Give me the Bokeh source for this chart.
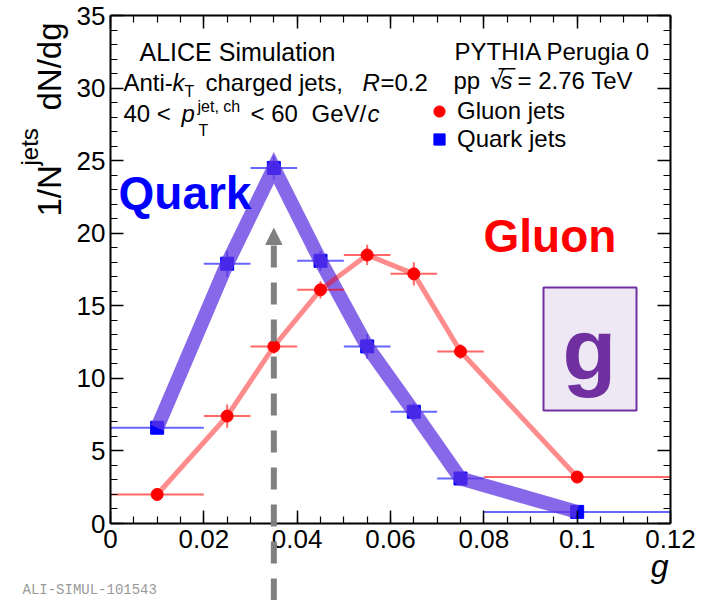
import numpy as np
from bokeh.plotting import figure
from bokeh.models import (Range1d, LinearAxis, FixedTicker, Label, Arrow, NormalHead,
                          BoxAnnotation, Legend, LegendItem)
from bokeh.embed import file_html
from bokeh.resources import INLINE

# ---- data: groomed-jet g distributions, 40 < pT < 60 GeV/c, R = 0.2 ----
g_center = [0.010, 0.025, 0.035, 0.045, 0.055, 0.065, 0.075, 0.100]
g_low = [0.00, 0.02, 0.03, 0.04, 0.05, 0.06, 0.07, 0.08]
g_high = [0.02, 0.03, 0.04, 0.05, 0.06, 0.07, 0.08, 0.12]
quark = [6.6, 17.9, 24.5, 18.1, 12.2, 7.7, 3.1, 0.8]
quark_err = [0.3, 0.9, 0.8, 0.7, 0.85, 0.6, 0.4, 0.2]
gluon = [2.0, 7.4, 12.2, 16.1, 18.5, 17.2, 11.85, 3.2]
gluon_err = [0.3, 0.8, 0.5, 0.6, 0.7, 0.8, 0.5, 0.3]
quark_peak_g = 0.035  # position marked by the dashed arrow

x_ticks = [0.0, 0.02, 0.04, 0.06, 0.08, 0.10, 0.12]
x_tick_labels = ["0", "0.02", "0.04", "0.06", "0.08", "0.1", "0.12"]
y_ticks = [0, 5, 10, 15, 20, 25, 30, 35]
y_tick_labels = ["0", "5", "10", "15", "20", "25", "30", "35"]

X_MIN, X_MAX = 0.0, 0.12
Y_MIN, Y_MAX = 0.0, 35.0

# ---- canvas geometry: the axes box sits inside a full-canvas frame ----
W, H = 713, 600
LEFT, RIGHT, TOP, BOTTOM = 110, 43, 15, 77
BOX_W = W - LEFT - RIGHT
BOX_H = H - TOP - BOTTOM


def dx(px):
    """canvas pixel column -> data x"""
    return X_MIN + (px - LEFT) / BOX_W * (X_MAX - X_MIN)


def dy(py):
    """canvas pixel row (from top) -> data y"""
    return Y_MIN + (H - BOTTOM - py) / BOX_H * (Y_MAX - Y_MIN)


FONT = "Liberation Sans"

p = figure(width=W, height=H, x_range=Range1d(dx(0), dx(W)), y_range=Range1d(dy(H), dy(0)),
           output_backend="svg", toolbar_location=None,
           x_axis_location=None, y_axis_location=None, min_border=0)
p.grid.visible = False
p.outline_line_color = None
p.background_fill_color = "white"
p.border_fill_color = "white"

x_minor = list(np.round(np.arange(0, 0.1201, 0.005), 4))
y_minor = list(range(0, 36))


def make_axis(ticks, minor, labels, bounds, loc, show_labels):
    ax = LinearAxis(fixed_location=loc, bounds=bounds)
    ax.ticker = FixedTicker(ticks=ticks, minor_ticks=minor)
    ax.axis_line_color = "black"
    ax.axis_line_width = 2
    ax.major_tick_line_width = 1.5
    ax.minor_tick_line_width = 1.2
    ax.major_tick_in = 13
    ax.major_tick_out = 0
    ax.minor_tick_in = 7
    ax.minor_tick_out = 0
    if show_labels:
        ax.major_label_overrides = {t: l for t, l in zip(ticks, labels)}
        ax.major_label_text_font = FONT
        ax.major_label_text_font_size = "26px"
        ax.major_label_text_color = "black"
    else:
        ax.major_label_text_color = None
        ax.major_label_standoff = 0
    return ax


bottom_axis = make_axis(x_ticks, x_minor, x_tick_labels, (X_MIN, X_MAX), Y_MIN, True)
bottom_axis.major_label_standoff = 6
p.add_layout(bottom_axis, "below")
left_axis = make_axis(y_ticks, y_minor, y_tick_labels, (Y_MIN, Y_MAX), X_MIN, True)
left_axis.major_label_standoff = 5
p.add_layout(left_axis, "left")
p.add_layout(make_axis(x_ticks, x_minor, x_tick_labels, (X_MIN, X_MAX), Y_MAX, False), "above")
p.add_layout(make_axis(y_ticks, y_minor, y_tick_labels, (Y_MIN, Y_MAX), X_MAX, False), "right")

q = np.array(quark)
qe = np.array(quark_err)
gl = np.array(gluon)
ge = np.array(gluon_err)

# ---- quark jets ----
p.segment(x0=g_low, y0=quark, x1=g_high, y1=quark, line_color="blue", line_alpha=0.6, line_width=2)
p.segment(x0=g_center, y0=q - qe, x1=g_center, y1=q + qe, line_color="blue", line_alpha=0.6, line_width=2)
quark_pts = p.scatter(g_center, quark, marker="square", size=13, fill_color="blue", line_color="blue")
p.line(g_center, quark, line_color="#5F35E0", line_alpha=0.75, line_width=14, line_join="miter")

# ---- gluon jets ----
p.segment(x0=g_low, y0=gluon, x1=g_high, y1=gluon, line_color="red", line_alpha=0.6, line_width=2)
p.segment(x0=g_center, y0=gl - ge, x1=g_center, y1=gl + ge, line_color="red", line_alpha=0.6, line_width=2)
gluon_pts = p.scatter(g_center, gluon, marker="circle", size=12, fill_color="red", line_color="red")
p.line(g_center, gluon, line_color="red", line_alpha=0.45, line_width=5, line_join="miter")

# ---- dashed arrow at the quark peak ----
p.add_layout(Arrow(end=NormalHead(size=16, fill_color="#808080", line_color="#808080", line_width=1),
                   x_start=quark_peak_g, y_start=dy(600), x_end=quark_peak_g, y_end=dy(228),
                   line_color="#808080", line_width=6, line_dash="22 15"))


def text(px, py, s, size, color="black", style="normal", align="left", angle=0.0, font=FONT):
    """place text by its baseline (px, py); rotated texts run bottom-to-top"""
    off = 0.35 * size
    if angle == 0.0:
        x, y = px, py - off
    else:
        x, y = px - off, py
    p.add_layout(Label(x=dx(x), y=dy(y), text=s, text_font=font, text_font_size=f"{size}px",
                       text_color=color, text_font_style=style, text_align=align,
                       text_baseline="middle", angle=angle))


# ---- header texts ----
text(237, 60, "ALICE Simulation", 25, align="center")
text(123, 90, "Anti-", 24)
text(172, 90, "k", 24, style="italic")
text(184, 97, "T", 16)
text(205, 90, "charged jets,", 24)
text(362, 90, "R", 24, style="italic")
text(380, 90, "=0.2", 24)

text(123, 121, "40 <", 24)
text(181, 121, "p", 24, style="italic")
text(197, 112, "jet, ch", 16)
text(198, 136, "T", 16)
text(250, 121, "< 60", 24)
text(311, 121, "GeV/", 24)
text(367, 121, "c", 24, style="italic")

text(552, 59, "PYTHIA Perugia 0", 24, align="center")
text(453, 88, "pp", 24)
text(489, 88, "\u221a", 24, font="DejaVu Sans")
text(500, 88, "s", 24, style="italic")
p.add_layout(BoxAnnotation(left=dx(498), right=dx(515), top=dy(67.5), bottom=dy(69),
                           fill_color="black", fill_alpha=1, line_alpha=0))
text(517, 88, "= 2.76 TeV", 24)

legend = Legend(items=[LegendItem(label="Gluon jets", renderers=[gluon_pts]),
                       LegendItem(label="Quark jets", renderers=[quark_pts])],
                location=(423, H - 153), orientation="vertical",
                glyph_width=32, glyph_height=28, label_height=28, spacing=0,
                padding=0, margin=0, label_standoff=2,
                label_text_font=FONT, label_text_font_size="24px", label_text_color="black",
                background_fill_alpha=0, border_line_alpha=0)
p.add_layout(legend)

# ---- big category labels ----
text(118, 209, "Quark", 46, color="blue", style="bold")
text(483, 252, "Gluon", 46, color="red", style="bold")
p.add_layout(BoxAnnotation(left=dx(543), right=dx(636), top=dy(287), bottom=dy(410),
                           fill_color="#EEE8F5", fill_alpha=1,
                           line_color="#7030A0", line_alpha=1, line_width=2))
text(589, 380, "g", 88, color="#7030A0", style="bold", align="center")

# ---- axis titles ----
text(61, 216, "1/N", 33, angle=np.pi / 2)
text(37, 165, "jets", 24, angle=np.pi / 2)
text(61, 110, "dN/dg", 33, angle=np.pi / 2)
text(668, 577, "g", 32, style="italic", align="right")

text(22, 594, "ALI-SIMUL-101543", 14, color="#999999", font="Liberation Mono")

open("out.html", "w").write(file_html(p, INLINE))
